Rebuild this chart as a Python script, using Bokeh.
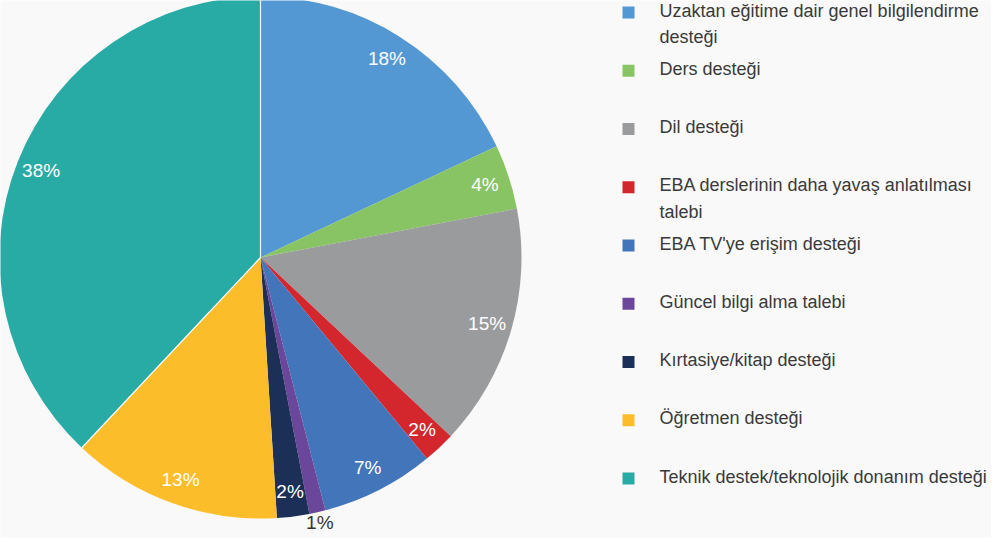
import math
from bokeh.plotting import figure
from bokeh.models import Range1d, ColumnDataSource
from bokeh.core.properties import value
from bokeh.embed import file_html
from bokeh.resources import INLINE

categories = [
    "Uzaktan eğitime dair genel bilgilendirme\ndesteği",
    "Ders desteği",
    "Dil desteği",
    "EBA derslerinin daha yavaş anlatılması\ntalebi",
    "EBA TV'ye erişim desteği",
    "Güncel bilgi alma talebi",
    "Kırtasiye/kitap desteği",
    "Öğretmen desteği",
    "Teknik destek/teknolojik donanım desteği",
]
values = [18, 4, 15, 2, 7, 1, 2, 13, 38]
colors = ["#5398d3", "#88c464", "#999b9d", "#d3262d", "#4375ba",
          "#6a479b", "#1c2f57", "#fcbd2a", "#29aba5"]

W, H = 991, 538
cx, cy, R = 260, H - 257, 261

p = figure(width=W, height=H, x_range=Range1d(0, W), y_range=Range1d(0, H),
           output_backend="svg", toolbar_location=None, min_border=0)
p.axis.visible = False
p.grid.visible = False
p.outline_line_color = None
p.background_fill_color = "#f9f9f9"
p.border_fill_color = "#f9f9f9"

total = float(sum(values))
starts, ends, lx, ly, ltxt, lcol = [], [], [], [], [], []
cum = 0.0
for v in values:
    a0 = cum / total
    a1 = (cum + v) / total
    starts.append(math.pi / 2 - 2 * math.pi * a0)
    ends.append(math.pi / 2 - 2 * math.pi * a1)
    mid = 2 * math.pi * (a0 + a1) / 2
    r = 272 if v < 1.5 else 236
    lx.append(cx + r * math.sin(mid))
    ly.append(cy + r * math.cos(mid))
    ltxt.append(f"{v}%")
    lcol.append("#333333" if v < 1.5 else "white")
    cum += v

src = ColumnDataSource(dict(start=starts, end=ends, color=colors))
p.wedge(x=cx, y=cy, radius=R, start_angle="start", end_angle="end",
        direction="clock", fill_color="color", line_color=None, source=src)
# white separators on both edges of the last slice
sep = [starts[-1], ends[-1]]
p.segment(x0=[cx, cx], y0=[cy, cy],
          x1=[cx + R * math.cos(a) for a in sep],
          y1=[cy + R * math.sin(a) for a in sep],
          line_color="white", line_width=1.2)

p.text(x=lx, y=ly, text=ltxt, text_color=lcol, text_align="center",
       text_baseline="middle", text_font=value("Liberation Sans"),
       text_font_size="19px")

# legend
ys = [H - (20 + i * 58.25 - 8) for i in range(len(categories))]
p.rect(x=[628] * len(categories), y=ys, width=12, height=12,
       fill_color=colors, line_color=None)
p.text(x=[659] * len(categories), y=[y + 12 for y in ys], text=categories,
       text_color="#3a3a3a", text_align="left", text_baseline="top",
       text_font=value("Liberation Sans"), text_font_size="18px",
       text_line_height=1.33)

open("out.html", "w").write(file_html(p, INLINE))
